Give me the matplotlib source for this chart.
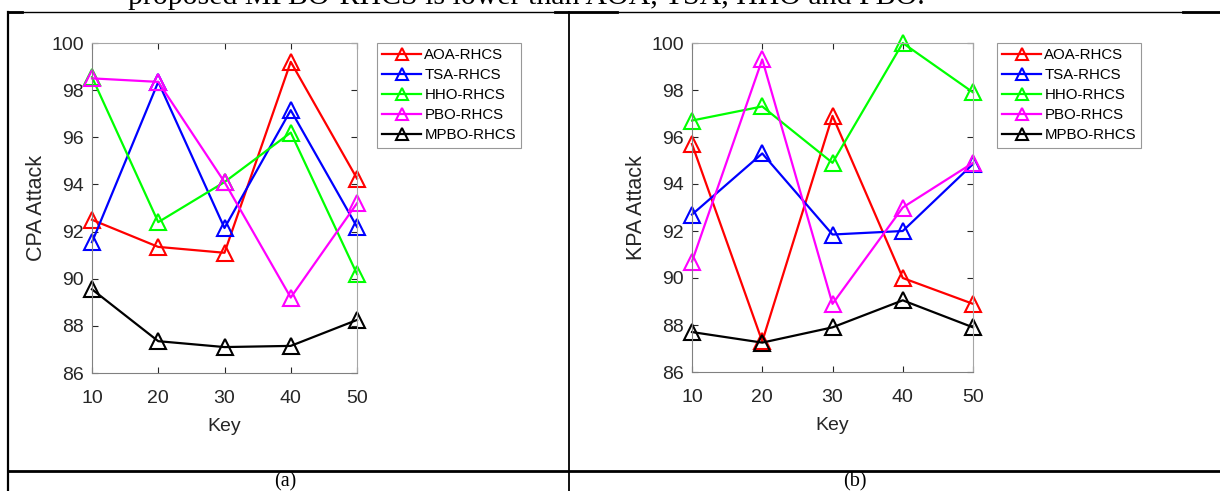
import matplotlib.pyplot as plt
from matplotlib.lines import Line2D

# data
keys = [10, 20, 30, 40, 50]
methods = ['AOA-RHCS', 'TSA-RHCS', 'HHO-RHCS', 'PBO-RHCS', 'MPBO-RHCS']
colors = ['#ff0000', '#0000ff', '#00ff00', '#ff00ff', '#000000']

cpa_aoa = [92.5, 91.35, 91.1, 99.2, 94.25]
cpa_tsa = [91.55, 98.35, 92.15, 97.15, 92.2]
cpa_hho = [98.55, 92.4, 94.1, 96.2, 90.2]
cpa_pbo = [98.5, 98.35, 94.1, 89.2, 93.2]
cpa_mpbo = [89.55, 87.35, 87.1, 87.15, 88.25]

kpa_aoa = [95.7, 87.3, 96.9, 90.0, 88.9]
kpa_tsa = [92.7, 95.3, 91.85, 92.0, 94.85]
kpa_hho = [96.7, 97.3, 94.9, 100.0, 97.9]
kpa_pbo = [90.7, 99.3, 88.9, 93.0, 94.9]
kpa_mpbo = [87.7, 87.25, 87.9, 89.05, 87.9]

W, H = 1220, 491
fig = plt.figure(figsize=(W / 100, H / 100), dpi=100)
plt.rcParams['font.family'] = ['Liberation Sans', 'DejaVu Sans']


def px_rect(x0, y0, x1, y1):
    # pixel box (top-left origin) -> figure fraction
    return [x0 / W, 1 - y1 / H, (x1 - x0) / W, (y1 - y0) / H]


def panel(rect, series, ylabel, leg_xy):
    ax = fig.add_axes(px_rect(*rect))
    for vals, name, c in zip(series, methods, colors):
        ax.plot(keys, vals, color=c, lw=1.6, marker='^', ms=11,
                mfc='none', mec=c, mew=1.5, label=name, clip_on=False)
    ax.set_xlim(10, 50)
    ax.set_ylim(86, 100)
    ax.set_xticks(keys)
    ax.set_yticks(range(86, 101, 2))
    ax.tick_params(direction='in', length=4, top=True, right=True,
                   labelsize=14, colors='#262626', pad=12)
    ax.tick_params(axis='y', pad=6)
    for s in ax.spines.values():
        s.set_color('#a6a6a6')
        s.set_linewidth(0.8)
    ax.spines['left'].set_color('#808080')
    ax.spines['bottom'].set_color('#808080')
    ax.set_xlabel('Key', fontsize=14, color='#262626', labelpad=8)
    ax.set_ylabel(ylabel, fontsize=15.5, color='#262626', labelpad=3)
    handles = [Line2D([], [], color=c, lw=1.6, marker='^', ms=9,
                      mfc='none', mec=c, mew=1.5) for c in colors]
    leg = fig.legend(handles, methods, loc='upper left',
                     bbox_to_anchor=(leg_xy[0] / W, 1 - leg_xy[1] / H),
                     fontsize=10.8, frameon=True, fancybox=False,
                     edgecolor='#7f7f7f', handlelength=2.6,
                     labelspacing=0.4, handletextpad=0.2,
                     borderpad=0.35, borderaxespad=0)
    leg.get_frame().set_linewidth(0.8)
    return ax


panel((92, 43, 357, 373), [cpa_aoa, cpa_tsa, cpa_hho, cpa_pbo, cpa_mpbo],
      'CPA Attack', (377, 43))
panel((692, 43, 973, 372), [kpa_aoa, kpa_tsa, kpa_hho, kpa_pbo, kpa_mpbo],
      'KPA Attack', (997, 43))

# table borders of the surrounding document
def hline(y, x0, x1, lw):
    fig.add_artist(Line2D([x0 / W, x1 / W], [1 - y / H, 1 - y / H],
                          color='black', lw=lw))


def vline(x, y0, y1, lw):
    fig.add_artist(Line2D([x / W, x / W], [1 - y0 / H, 1 - y1 / H],
                          color='black', lw=lw))


hline(12, 8, 1220, 1.0)
hline(12, 8, 22, 2.0)
hline(12, 555, 617, 2.0)
hline(12, 1183, 1220, 2.0)
hline(471, 8, 1220, 2.0)
vline(8, 12, 491, 1.6)
vline(569, 12, 491, 1.3)

fig.text(128 / W, 1 - 4 / H, 'proposed MPBO-RHCS is lower than AOA, TSA, HHO and PBO.',
         family='Liberation Serif', fontsize=21.5, va='baseline', ha='left')
fig.text(285 / W, 1 - 486 / H, '(a)', family='Liberation Serif',
         fontsize=14.5, ha='center', va='baseline')
fig.text(855 / W, 1 - 486 / H, '(b)', family='Liberation Serif',
         fontsize=14.5, ha='center', va='baseline')

fig.savefig('out.png', dpi=100)
